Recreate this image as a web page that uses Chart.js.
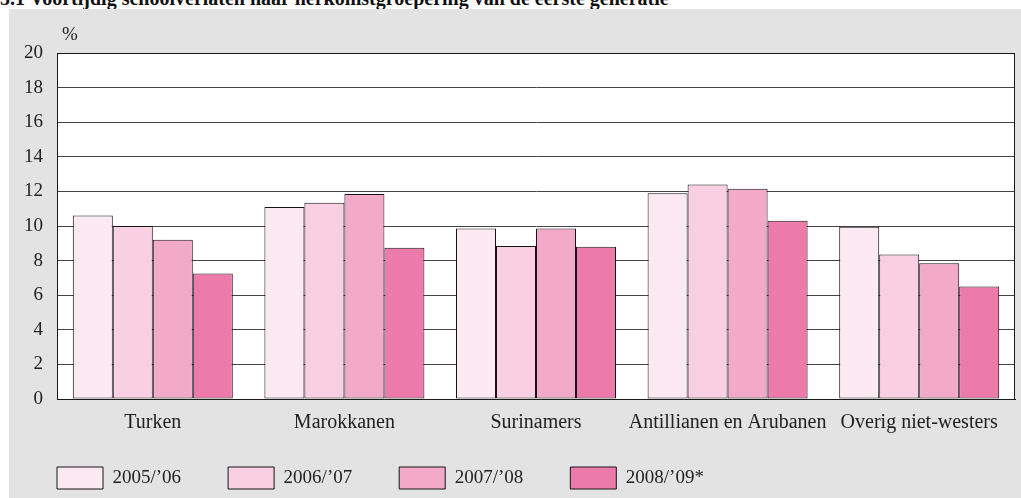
<!DOCTYPE html>
<html>
<head>
<meta charset="utf-8">
<script src="https://cdn.jsdelivr.net/npm/chart.js@4.4.1/dist/chart.umd.min.js"></script>
<style>
  html, body { margin: 0; padding: 0; background: #fff; }
  body { width: 1021px; height: 498px; position: relative; overflow: hidden; }
  #title {
    position: absolute; left: 0; top: -12px; white-space: nowrap;
    font: bold 20px/20px "Liberation Serif", serif; color: #111;
  }
  #panel { position: absolute; left: 9px; top: 9px; width: 1012px; height: 489px; background: #e2e3e2; }
  #chart { position: absolute; left: 10px; top: 9px; }
</style>
</head>
<body>
<div id="title">5.1  Voortijdig schoolverlaten naar herkomstgroepering van de eerste generatie</div>
<div id="panel"></div>
<canvas id="chart" width="1011" height="489"></canvas>
<script>
// Voortijdig schoolverlaten, eerste generatie (%)
const categories = ["Turken", "Marokkanen", "Surinamers", "Antillianen en Arubanen", "Overig niet-westers"]
const years = ["2005/\u201906", "2006/\u201907", "2007/\u201908", "2008/\u201909*"]
const y2005 = [10.6, 11.1, 9.85, 11.9, 9.95]
const y2006 = [10.0, 11.35, 8.85, 12.4, 8.35]
const y2007 = [9.2, 11.85, 9.85, 12.15, 7.85]
const y2008 = [7.25, 8.75, 8.8, 10.3, 6.5]
const yTicks = [0, 2, 4, 6, 8, 10, 12, 14, 16, 18, 20]

const seriesValues = [y2005, y2006, y2007, y2008]
const barColors = ["#fce9f2", "#f8d0e2", "#f3a9c8", "#ec7aaa"]
const FONT = "'Liberation Serif', 'Times New Roman', serif"

// white plot area, frame and the "%" unit label
const plotFrame = {
  id: "plotFrame",
  afterLayout(chart) {
    // legend padding doubles as item spacing, so pull the legend box up
    const lg = chart.legend
    if (lg) {
      lg.top = 411
      lg.bottom = chart.height
      lg.height = lg.bottom - lg.top
    }
  },
  beforeDraw(chart) {
    const { ctx, chartArea: a } = chart
    ctx.save()
    ctx.fillStyle = "#fff"
    ctx.fillRect(a.left, a.top, a.right - a.left, a.bottom - a.top)
    ctx.restore()
  },
  afterDatasetsDraw(chart) {
    const { ctx, chartArea: a } = chart
    ctx.save()
    ctx.strokeStyle = "#1a1a1a"
    ctx.lineWidth = 1
    ctx.strokeRect(a.left + 0.5, a.top + 0.5, a.right - a.left - 1, a.bottom - a.top)
    ctx.fillStyle = "#222"
    ctx.font = "19px " + FONT
    ctx.textBaseline = "middle"
    ctx.fillText("%", a.left + 5, a.top - 18)
    ctx.restore()
  },
}

const datasets = years.map((label, i) => ({
  label: label,
  data: seriesValues[i],
  backgroundColor: barColors[i],
  borderColor: "#151515",
  borderWidth: 1,
  borderSkipped: false,
  categoryPercentage: 0.835,
  barPercentage: 1,
}))

new Chart(document.getElementById("chart"), {
  type: "bar",
  data: { labels: categories, datasets: datasets },
  options: {
    responsive: false,
    animation: false,
    layout: { padding: { top: 44, right: 6, left: 0, bottom: 0 } },
    plugins: {
      tooltip: { enabled: false },
      legend: {
        display: true,
        position: "bottom",
        align: "start",
        maxHeight: 59,
        labels: {
          boxWidth: 46,
          boxHeight: 22,
          padding: 47,
          color: "#222",
          font: { family: FONT, size: 19 },
        },
      },
    },
    scales: {
      x: {
        grid: { display: false, drawTicks: false },
        border: { display: true, color: "#111", width: 1 },
        ticks: { color: "#222", padding: 12, maxRotation: 0, autoSkip: false, font: { family: FONT, size: 20 } },
        afterFit(scale) { scale.height = 40 },
      },
      y: {
        min: 0,
        max: 20,
        afterBuildTicks(scale) { scale.ticks = yTicks.map(v => ({ value: v })) },
        grid: { color: "#444", lineWidth: 1, drawTicks: false },
        border: { display: true, color: "#111", width: 1 },
        ticks: { color: "#222", padding: 14, font: { family: FONT, size: 19 } },
        afterFit(scale) { scale.width = 47 },
      },
    },
  },
  plugins: [plotFrame],
})
</script>
</body>
</html>
